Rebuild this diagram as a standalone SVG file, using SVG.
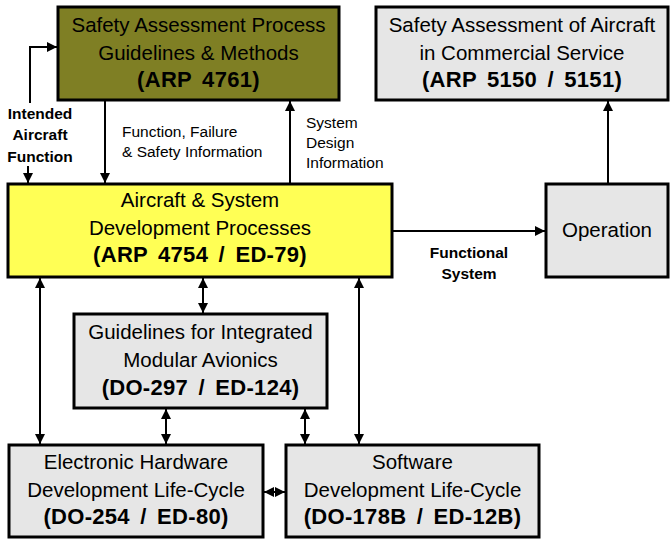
<svg xmlns="http://www.w3.org/2000/svg" width="671" height="539" viewBox="0 0 671 539">
<defs>
<marker id="ah" viewBox="0 0 10 10" refX="10" refY="5" markerWidth="10" markerHeight="10" markerUnits="userSpaceOnUse" orient="auto-start-reverse">
<path d="M0,0 L10,5 L0,10 z" fill="#000"/>
</marker>
<style>
.box{stroke:#000;stroke-width:3}
.olive{fill:#7f7f24}
.gray{fill:#e6e6e6}
.yellow{fill:#ffff55}
.t{font-family:"Liberation Sans","DejaVu Sans",sans-serif;font-size:20.5px;text-anchor:middle;fill:#000}
.b{font-family:"Liberation Sans","DejaVu Sans",sans-serif;font-size:22px;font-weight:bold;letter-spacing:0.3px;word-spacing:4px;text-anchor:middle;fill:#000}
.s{font-family:"Liberation Sans","DejaVu Sans",sans-serif;font-size:15.5px;fill:#000}
.sb{font-family:"Liberation Sans","DejaVu Sans",sans-serif;font-size:15.5px;font-weight:bold;text-anchor:middle;fill:#000}
.c{stroke:#000;stroke-width:2;fill:none}
.one{marker-end:url(#ah)}
.two{marker-start:url(#ah);marker-end:url(#ah)}
</style>
</defs>
<g id="connectors">
<polyline class="c one" points="30,103 30,47 57,47"/>
<line class="c one" x1="28" y1="166" x2="28" y2="183"/>
<line class="c one" x1="105" y1="101" x2="105" y2="183"/>
<line class="c one" x1="290" y1="183" x2="290" y2="101"/>
<line class="c one" x1="608" y1="183" x2="608" y2="101"/>
<line class="c one" x1="393" y1="231" x2="545" y2="231"/>
<line class="c two" x1="40" y1="278" x2="40" y2="444"/>
<line class="c two" x1="203" y1="278" x2="203" y2="313"/>
<line class="c two" x1="359" y1="278" x2="359" y2="444"/>
<line class="c two" x1="166" y1="409" x2="166" y2="444"/>
<line class="c two" x1="305" y1="409" x2="305" y2="444"/>
<line class="c two" x1="264" y1="492" x2="285" y2="492"/>
<text class="sb" x="40" y="119">Intended</text>
<text class="sb" x="40" y="140">Aircraft</text>
<text class="sb" x="40" y="162">Function</text>
<text class="s" x="122" y="137">Function, Failure</text>
<text class="s" x="122" y="157">&amp; Safety Information</text>
<text class="s" x="306" y="128">System</text>
<text class="s" x="306" y="148">Design</text>
<text class="s" x="306" y="168">Information</text>
<text class="sb" x="469" y="258">Functional</text>
<text class="sb" x="469" y="279">System</text>
</g>
<g id="arp4761">
<rect class="box olive" x="58" y="7" width="281" height="93"/>
<text class="t" x="198.5" y="32">Safety Assessment Process</text>
<text class="t" x="198.5" y="60">Guidelines &amp; Methods</text>
<text class="b" x="198.5" y="87">(ARP 4761)</text>
</g>
<g id="arp5150">
<rect class="box gray" x="376" y="7" width="292" height="93"/>
<text class="t" x="522" y="32">Safety Assessment of Aircraft</text>
<text class="t" x="522" y="60">in Commercial Service</text>
<text class="b" x="522" y="87">(ARP 5150 / 5151)</text>
</g>
<g id="arp4754">
<rect class="box yellow" x="8" y="184" width="384" height="93"/>
<text class="t" x="200" y="207">Aircraft &amp; System</text>
<text class="t" x="200" y="235">Development Processes</text>
<text class="b" x="200" y="262">(ARP 4754 / ED-79)</text>
</g>
<g id="operation">
<rect class="box gray" x="546" y="184" width="122" height="93"/>
<text class="t" x="607" y="237">Operation</text>
</g>
<g id="do297">
<rect class="box gray" x="74" y="314" width="253" height="94"/>
<text class="t" x="200.5" y="339">Guidelines for Integrated</text>
<text class="t" x="200.5" y="367">Modular Avionics</text>
<text class="b" x="200.5" y="395">(DO-297 / ED-124)</text>
</g>
<g id="do254">
<rect class="box gray" x="9" y="445" width="254" height="92"/>
<text class="t" x="136" y="469">Electronic Hardware</text>
<text class="t" x="136" y="497">Development Life-Cycle</text>
<text class="b" x="136" y="524">(DO-254 / ED-80)</text>
</g>
<g id="do178b">
<rect class="box gray" x="286" y="445" width="253" height="92"/>
<text class="t" x="412.5" y="469">Software</text>
<text class="t" x="412.5" y="497">Development Life-Cycle</text>
<text class="b" x="412.5" y="524">(DO-178B / ED-12B)</text>
</g>
</svg>
